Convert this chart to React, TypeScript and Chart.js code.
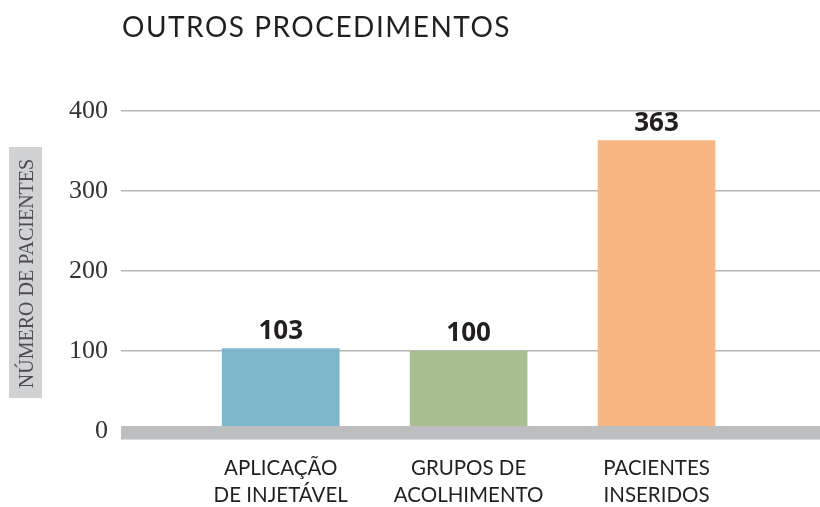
import React, { useEffect, useRef } from 'react';
import { Chart, registerables } from 'chart.js';

Chart.register(...registerables);

const TITLE = 'OUTROS PROCEDIMENTOS';
const Y_AXIS_TITLE = 'NÚMERO DE PACIENTES';
const categories: string[][] = [
  ['APLICAÇÃO', 'DE INJETÁVEL'],
  ['GRUPOS DE', 'ACOLHIMENTO'],
  ['PACIENTES', 'INSERIDOS'],
];
const categoryPositions = [1, 2, 3];
const patientCounts = [103, 100, 363];
const barColors = ['#7fb6cc', '#a9bf8f', '#f9b784'];
const yTickStep = 100;
const yMax = 400;

const decorPlugin = {
  id: 'decor',
  beforeDraw(chart: any) {
    const ctx = chart.ctx;
    const area = chart.chartArea;
    ctx.save();
    // title
    ctx.font = '28px Lato';
    ctx.fillStyle = '#231f20';
    ctx.textAlign = 'left';
    ctx.textBaseline = 'alphabetic';
    try { (ctx as any).letterSpacing = '1.5px'; } catch (e) {}
    ctx.fillText(TITLE, area.left + 1, 37);
    try { (ctx as any).letterSpacing = '0px'; } catch (e) {}
    // y axis title box
    ctx.fillStyle = '#d1d2d4';
    ctx.fillRect(9, 147, 33, 251);
    ctx.translate(33, 273.5);
    ctx.rotate(-Math.PI / 2);
    ctx.font = '20px "Liberation Serif"';
    ctx.fillStyle = '#4d4d4f';
    ctx.textAlign = 'center';
    ctx.fillText(Y_AXIS_TITLE, 0, 0);
    ctx.restore();
  },
  afterDatasetsDraw(chart: any) {
    const ctx = chart.ctx;
    const area = chart.chartArea;
    const y0 = chart.scales.y.getPixelForValue(0);
    ctx.save();
    ctx.fillStyle = '#bcbec0';
    ctx.fillRect(area.left, y0 - 5, area.right - area.left, 13.5);
    ctx.restore();
  },
  afterDraw(chart: any) {
    const ctx = chart.ctx;
    const meta = chart.getDatasetMeta(0);
    ctx.save();
    ctx.font = 'bold 26px "Open Sans"';
    ctx.fillStyle = '#231f20';
    ctx.textAlign = 'center';
    ctx.textBaseline = 'alphabetic';
    meta.data.forEach((bar: any, i: number) => {
      ctx.fillText(String(patientCounts[i]), bar.x, bar.y - 10);
    });
    ctx.restore();
  },
};

export default function App() {
  const canvasRef = useRef<HTMLCanvasElement | null>(null);

  useEffect(() => {
    if (!canvasRef.current) return;
    const chart = new Chart(canvasRef.current, {
      type: 'bar',
      data: {
        datasets: [
          {
            data: patientCounts.map((v, i) => ({ x: categoryPositions[i], y: v })),
            backgroundColor: barColors,
            borderWidth: 0,
            barThickness: 117,
          } as any,
        ],
      },
      options: {
        animation: false,
        responsive: true,
        maintainAspectRatio: false,
        layout: { padding: { top: 111, left: 0, right: 0, bottom: 0 } },
        plugins: {
          legend: { display: false },
          tooltip: { enabled: false },
          title: { display: false },
        },
        scales: {
          x: {
            type: 'linear',
            min: 0.15,
            max: 3.87,
            offset: false,
            grid: { display: false, offset: false },
            border: { display: false },
            afterBuildTicks: (s: any) => {
              s.ticks = categoryPositions.map((v) => ({ value: v }));
            },
            afterFit: (s: any) => {
              s.height = 76;
            },
            ticks: {
              autoSkip: false,
              maxRotation: 0,
              padding: 16,
              color: '#231f20',
              font: { family: 'Lato', size: 20.5, lineHeight: 1.32 },
              callback: (v: any) => {
                const idx = categoryPositions.indexOf(Number(v));
                return idx >= 0 ? categories[idx] : '';
              },
            },
          } as any,
          y: {
            min: 0,
            max: yMax,
            z: 1,
            border: { display: false },
            grid: {
              drawTicks: false,
              lineWidth: 1.5,
              color: (c: any) =>
                c.tick && c.tick.value === 0 ? 'rgba(0,0,0,0)' : 'rgba(110,110,115,0.5)',
            },
            afterFit: (s: any) => {
              s.width = 121;
            },
            ticks: {
              stepSize: yTickStep,
              padding: 13,
              color: '#333333',
              font: { family: '"Liberation Serif"', size: 26 },
            },
          } as any,
        },
      },
      plugins: [decorPlugin],
    });
    return () => chart.destroy();
  }, []);

  return (
    <div style={{ position: 'absolute', left: 0, top: 0, width: 820, height: 507 }}>
      <canvas ref={canvasRef} />
    </div>
  );
}
